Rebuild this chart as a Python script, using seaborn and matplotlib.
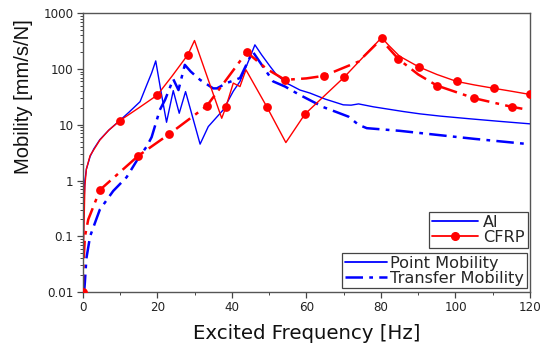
import numpy as np
import pandas as pd
import matplotlib
matplotlib.use("Agg")
import matplotlib.pyplot as plt
from matplotlib.lines import Line2D
from matplotlib.ticker import FixedLocator, FixedFormatter, LogLocator, NullFormatter
import seaborn as sns

# ---------------- data ----------------
al_point_f = [0, 0.3, 0.6, 1, 2, 3, 4.6, 7, 10, 12.5, 15.4, 17.2, 18.5, 19.6, 21, 22.5,
              24.3, 25.9, 27.6, 31.5, 33.7, 37.7, 40.4, 42.2, 44.5, 46.2, 48, 50.3, 52,
              54.7, 58.3, 61, 65, 69.9, 72, 74, 78, 86, 90.5, 96, 103.9, 112, 120]
al_point_v = [0.01, 0.3, 1.0, 1.6, 2.7, 3.7, 5.4, 8, 12, 17, 26, 52, 85, 140, 40, 11.1,
              41, 16.1, 39.4, 4.5, 9.3, 18.5, 40, 60, 140, 272, 180, 111, 79,
              56, 42, 37, 29, 22.8, 22.5, 23.7, 21, 17.3, 15.7, 14.3, 12.8, 11.5, 10.4]

al_trans_f = [0.4, 0.6, 1, 2, 3.75, 4.6, 8.2, 11.8, 14.9, 17.2, 18.5, 20.7, 22.1, 24.3,
              25.7, 27.4, 29, 31.5, 35, 36, 38.6, 42.2, 45.6, 48, 51.1, 54.3, 58, 64.6,
              68, 71.3, 74, 76.2, 85, 95, 105, 119.6]
al_trans_v = [0.01, 0.015, 0.04, 0.1, 0.21, 0.3, 0.65, 1.15, 2.5, 4.1, 6, 18.5, 28, 66,
              42, 119, 90, 64, 45, 45, 56, 69, 206, 120, 60, 48.5, 35, 20.7,
              17, 14, 10, 8.7, 7.8, 6.6, 5.6, 4.5]

cfrp_point_f = [0, 0.3, 0.6, 1, 2, 4.6, 7, 10, 15, 20, 24, 28.2, 30, 37.3, 38.4, 40.4,
                42.2, 43.8, 49.4, 54.5, 59.6, 70.1, 80.2, 82, 85, 90.2, 95, 100.3,
                105, 110.4, 115, 120]
cfrp_point_v = [0.01, 0.1, 0.8, 1.6, 2.8, 5.3, 8, 11.9, 20, 34, 75, 180, 325, 13.1, 20.7, 56,
                48.5, 97, 21, 4.8, 15.5, 71, 368, 270, 170, 109, 80, 60,
                52, 45, 40, 35]
cfrp_point_mf = [0, 10, 20, 28.2, 38.4, 49.4, 59.6, 70.1, 80.2, 90.2, 100.3, 110.4, 120]
cfrp_point_mv = [0.01, 11.9, 34, 180, 20.7, 21, 15.5, 71, 368, 109, 60, 45, 35]

cfrp_trans_f = [0, 0.2, 0.6, 1.5, 4.65, 14.9, 23.2, 33.3, 44, 49.4, 54.3, 60, 64.7, 74,
                80, 84.7, 90, 95, 105, 115.1, 118.7]
cfrp_trans_v = [0.01, 0.03, 0.098, 0.2, 0.68, 2.77, 6.8, 21.8, 201, 100, 64, 68, 75.5, 136,
                340, 151, 80, 50.6, 30, 21, 19]
cfrp_trans_mf = [4.65, 14.9, 23.2, 33.3, 44, 54.3, 64.7, 84.7, 95, 105, 115.1]
cfrp_trans_mv = [0.68, 2.77, 6.8, 21.8, 201, 64, 75.5, 151, 50.6, 30, 21]

x_ticks = [0, 20, 40, 60, 80, 100, 120]
y_ticks = [0.01, 0.1, 1, 10, 100, 1000]
y_tick_labels = ["0.01", "0.1", "1", "10", "100", "1000"]

# ---------------- style ----------------
sns.set_style("ticks")
plt.rcParams['font.family'] = ['DejaVu Sans']

BLUE = "#0000FF"
RED = "#FF0000"
DASHDOT = (7, 2.5, 1.5, 2.5)

fig = plt.figure(figsize=(5.51, 3.45), dpi=100)
ax = fig.add_axes([0.150, 0.1536, 0.812, 0.8078])

sns.lineplot(x=al_point_f, y=al_point_v, ax=ax, color=BLUE, lw=1.0, sort=False,
             estimator=None)
sns.lineplot(x=al_trans_f, y=al_trans_v, ax=ax, color=BLUE, lw=1.8, sort=False,
             estimator=None).lines[-1].set_dashes(DASHDOT)
sns.lineplot(x=cfrp_point_f, y=cfrp_point_v, ax=ax, color=RED, lw=1.0, sort=False,
             estimator=None)
sns.lineplot(x=cfrp_trans_f, y=cfrp_trans_v, ax=ax, color=RED, lw=1.8, sort=False,
             estimator=None).lines[-1].set_dashes(DASHDOT)
sns.scatterplot(x=cfrp_point_mf, y=cfrp_point_mv, ax=ax, color=RED, s=40,
                edgecolor=RED, linewidth=0, zorder=5)
sns.scatterplot(x=cfrp_trans_mf, y=cfrp_trans_mv, ax=ax, color=RED, s=40,
                edgecolor=RED, linewidth=0, zorder=5)

ax.set_yscale("log")
ax.set_xlim(0, 120)
ax.set_ylim(0.01, 1000)

ax.xaxis.set_major_locator(FixedLocator(x_ticks))
ax.xaxis.set_minor_locator(FixedLocator([10, 30, 50, 70, 90, 110]))
ax.yaxis.set_major_locator(FixedLocator(y_ticks))
ax.yaxis.set_major_formatter(FixedFormatter(y_tick_labels))
ax.yaxis.set_minor_locator(LogLocator(base=10, subs=np.arange(2, 10), numticks=20))
ax.yaxis.set_minor_formatter(NullFormatter())

for s in ax.spines.values():
    s.set_color("#555555")
    s.set_linewidth(1.0)
    s.set_visible(True)

ax.tick_params(axis="both", which="major", direction="out", length=4, width=0.9,
               color="#444444", labelsize=8.6, labelcolor="#222222", pad=2.5)
ax.tick_params(axis="both", which="minor", direction="out", length=2.5, width=0.7,
               color="#444444")
ax.tick_params(top=False, right=False, which="both")

ax.set_xlabel("Excited Frequency [Hz]", fontsize=14.2, labelpad=7, color="#111111")
ax.set_ylabel("Mobility [mm/s/N]", fontsize=14.5, color="#111111",
              family=["Liberation Sans", "DejaVu Sans"])
ax.yaxis.set_label_coords(-0.112, 0.70)

h1 = [Line2D([], [], color=BLUE, lw=1.3),
      Line2D([], [], color=RED, lw=1.3, marker="o", markersize=5.5)]
leg1 = ax.legend(h1, ["Al", "CFRP"], loc="lower right", bbox_to_anchor=(0.9955, 0.157),
                 borderaxespad=0, fancybox=False, framealpha=1, edgecolor="#444444",
                 fontsize=11.6, handlelength=2.9, handletextpad=0.3, borderpad=0.2,
                 labelspacing=0.0)
leg1.get_frame().set_linewidth(0.9)
ax.add_artist(leg1)

h2 = [Line2D([], [], color=BLUE, lw=1.3),
      Line2D([], [], color=BLUE, lw=1.8, dashes=DASHDOT)]
leg2 = ax.legend(h2, ["Point Mobility", "Transfer Mobility"], loc="lower right",
                 bbox_to_anchor=(0.9926, 0.0133), borderaxespad=0, fancybox=False,
                 framealpha=1, edgecolor="#444444", fontsize=11.6, handlelength=2.65,
                 handletextpad=0.2, borderpad=0.15, labelspacing=0.0)
leg2.get_frame().set_linewidth(0.9)

fig.savefig("out.png", dpi=100)
